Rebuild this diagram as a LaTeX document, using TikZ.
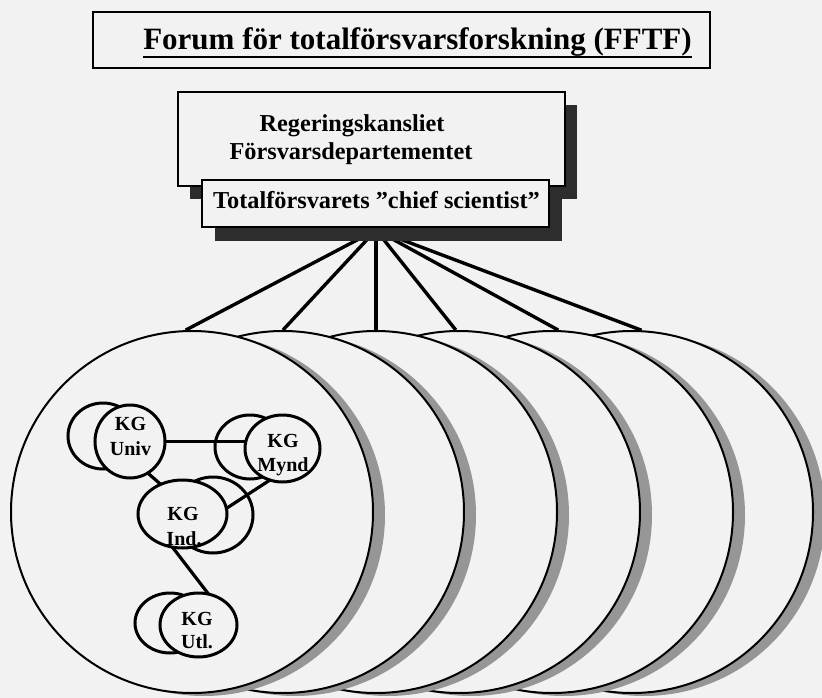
\documentclass[tikz,border=0pt]{standalone}
\usepackage{fontspec}
\setmainfont{Liberation Serif}
\usetikzlibrary{shapes.geometric,calc}
\definecolor{paper}{RGB}{242,242,242}
\definecolor{ringshadow}{RGB}{150,150,150}
\definecolor{boxshadow}{RGB}{45,45,45}
\tikzset{
  bigring/.style={circle,draw=black,line width=2pt,fill=paper,minimum size=362pt,inner sep=0pt},
  bigshade/.style={circle,fill=ringshadow,minimum size=362pt,inner sep=0pt},
  kg/.style={ellipse,draw=black,line width=3pt,fill=paper,inner sep=0pt},
  kgtext/.style={font=\fontsize{20}{24}\selectfont\bfseries,inner sep=0pt,anchor=base},
  boxtext/.style={font=\fontsize{24.3}{28}\selectfont\bfseries,inner sep=0pt,anchor=base},
  titletext/.style={font=\fontsize{31}{36}\selectfont\bfseries,inner sep=0pt,anchor=base},
  framebox/.style={rectangle,draw=black,line width=2pt,fill=paper,inner sep=0pt},
  darkshade/.style={rectangle,fill=boxshadow,inner sep=0pt},
  link/.style={line width=3.2pt},
  fanline/.style={line width=3.4pt}
}
\begin{document}
\begin{tikzpicture}[x=1pt,y=-1pt]
\useasboundingbox (0,0) rectangle (822,698);
\fill[paper] (0,0) rectangle (822,698);

% big rings, back to front
\foreach \cx/\n in {632/6,552/5,459/4,376/3,283/2,192/1}{
  \node[bigshade] (s\n) at (\cx+12,515) {};
  \node[bigring] (c\n) at (\cx,512) {};
}

% fan of connectors
\coordinate (hub) at (376,230);
\draw[fanline] (hub) -- (c1.92.5);
\draw[fanline] (hub) -- (c2.90);
\draw[fanline] (hub) -- (c3.90);
\draw[fanline] (hub) -- (c4.91.9);
\draw[fanline] (hub) -- (c5.88.4);
\draw[fanline] (hub) -- (c6.87.8);

% title
\node[framebox,minimum width=617pt,minimum height=56pt] (titlebox) at (401.5,40) {};
\node[titletext] (ttl) at (417.5,50) {Forum för totalförsvarsforskning (FFTF)};
\draw[line width=2pt] ($(ttl.base west)+(0,7)$) -- ($(ttl.base east)+(0,7)$);

% ministry box and chief scientist box with shadows
\node[darkshade,minimum width=387pt,minimum height=94pt] (regshade) at (383.5,152) {};
\node[framebox,minimum width=387pt,minimum height=94pt] (reg) at (371.5,139) {};
\node[boxtext] (reg1) at (352,132) {Regeringskansliet};
\node[boxtext] (reg2) at (351,160) {Försvarsdepartementet};
\node[darkshade,minimum width=347pt,minimum height=47pt] (chiefshade) at (388.5,217.5) {};
\node[framebox,minimum width=347pt,minimum height=47pt] (chief) at (375.5,203.5) {};
\node[boxtext] (chieftext) at (376.5,208) {Totalförsvarets ”chief scientist”};

% KG groups inside the front ring: back ellipses
\node[kg,minimum width=70pt,minimum height=66pt] (univB) at (103,436) {};
\node[kg,minimum width=70pt,minimum height=64pt] (myndB) at (250,447) {};
\node[kg,minimum width=80pt,minimum height=76pt] (indB) at (213,515) {};
\node[kg,minimum width=70pt,minimum height=60pt] (utlB) at (170,623) {};

% position helpers for front ellipses and link ends hidden inside them
\coordinate (univC) at (130,441.5);
\coordinate (myndC) at (282.5,448.5);
\coordinate (indC) at (182.5,514);
\coordinate (utlC) at (198.5,625);
\coordinate (univA) at (145,470.6);
\coordinate (indA) at (165,488.1);
\coordinate (myndA) at (276,476.1);
\coordinate (indB1) at (215,515.8);
\coordinate (indC1) at (168,541.4);
\coordinate (utlA) at (211,597.3);

% links (drawn before the front ellipses)
\draw[link] (univC) -- (univC -| myndC);
\draw[link] (univA) -- (indA);
\draw[link] (myndA) -- (indB1);
\draw[link] (indC1) -- (utlA);

% front ellipses
\node[kg,minimum width=70pt,minimum height=73pt] (univ) at (univC) {};
\node[kg,minimum width=75pt,minimum height=67pt] (mynd) at (myndC) {};
\node[kg,minimum width=89pt,minimum height=68pt] (ind) at (indC) {};
\node[kg,minimum width=77pt,minimum height=64pt] (utl) at (utlC) {};

% KG labels
\node[kgtext] (univ1) at (130.5,430) {KG};
\node[kgtext] (univ2) at (130.5,455) {Univ};
\node[kgtext] (mynd1) at (283,447) {KG};
\node[kgtext] (mynd2) at (283,471) {Mynd};
\node[kgtext] (ind1) at (183,520) {KG};
\node[kgtext] (ind2) at (184,545) {Ind.};
\node[kgtext] (utl1) at (197,625) {KG};
\node[kgtext] (utl2) at (197,648) {Utl.};
\end{tikzpicture}
\end{document}
